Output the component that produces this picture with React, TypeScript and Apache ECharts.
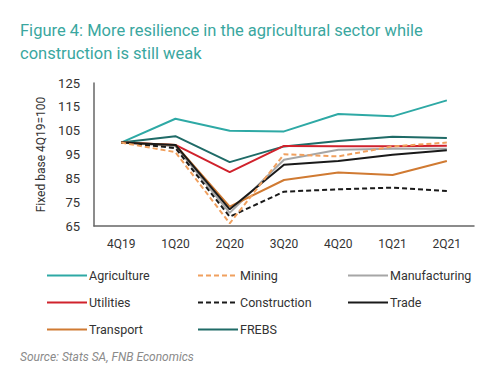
import React, { useEffect, useRef } from "react";
import * as echarts from "echarts";

const categories = ["4Q19", "1Q20", "2Q20", "3Q20", "4Q20", "1Q21", "2Q21"];
const agriculture = [100, 110, 105, 104.7, 112, 111, 117.7];
const mining = [100, 96, 66.1, 95.1, 94.2, 98.4, 100];
const manufacturing = [100, 98.5, 70.5, 92.8, 97, 97.4, 97.4];
const utilities = [100, 99, 87.6, 98.6, 98.5, 98.5, 98.7];
const construction = [100, 97.7, 68.9, 79.4, 80.4, 81.1, 79.7];
const trade = [100, 99, 72, 90.7, 92.3, 94.9, 96.8];
const transport = [100, 99, 73.1, 84.3, 87.4, 86.4, 92.3];
const frebs = [100, 102.7, 91.8, 98.4, 100.7, 102.4, 101.9];

const yTicks = { min: 65, max: 125, interval: 10 };

export default function App() {
  const ref = useRef<HTMLDivElement>(null);
  useEffect(() => {
    document.body.style.margin = "0";
    if (!ref.current) return;
    const chart = echarts.init(ref.current, undefined, { renderer: "svg" });
    const font = "Roboto, 'Noto Sans', sans-serif";
    const mk = (name: string, data: number[], color: string, dashed = false) => ({
      name,
      type: "line",
      data,
      symbol: "none",
      lineStyle: { color, width: 2, type: dashed ? [5, 3] : "solid" },
      itemStyle: { color },
    });
    const legendBase = {
      orient: "vertical",
      itemWidth: 40,
      itemHeight: 12,
      itemGap: 14,
      itemStyle: { opacity: 0 },
      textStyle: { fontFamily: font, fontSize: 12.5, color: "#333", padding: [0, 0, 0, -3] },
    };
    chart.setOption({
      animation: false,
      title: [
        {
          text: "Figure 4: More resilience in the agricultural sector while\nconstruction is still weak",
          left: 15,
          top: 14,
          textStyle: {
            fontFamily: font,
            fontSize: 16.5,
            fontWeight: "normal",
            color: "#3aa7a0",
            lineHeight: 23,
          },
        },
        {
          text: "Source: Stats SA, FNB Economics",
          left: 15,
          top: 346,
          textStyle: {
            fontFamily: font,
            fontSize: 12,
            fontStyle: "italic",
            fontWeight: "normal",
            color: "#8a8a8a",
          },
        },
      ],
      grid: { left: 94, right: 11, top: 83, bottom: 145 },
      xAxis: {
        type: "category",
        data: categories,
        boundaryGap: true,
        axisLine: { lineStyle: { color: "#666", width: 1.5 } },
        axisTick: { show: false },
        axisLabel: { fontFamily: font, fontSize: 12, color: "#333", margin: 12 },
      },
      yAxis: {
        type: "value",
        min: yTicks.min,
        max: yTicks.max,
        interval: yTicks.interval,
        name: "Fixed base 4Q19=100",
        nameLocation: "middle",
        nameGap: 39,
        nameTextStyle: { fontFamily: font, fontSize: 12, color: "#333" },
        axisLine: { show: true, lineStyle: { color: "#666", width: 1.5 } },
        axisTick: { show: false },
        splitLine: { show: false },
        axisLabel: { fontFamily: font, fontSize: 13, color: "#333", margin: 14 },
      },
      legend: [
        { ...legendBase, left: 41, top: 264, data: ["Agriculture", "Utilities", "Transport"] },
        { ...legendBase, left: 192, top: 264, data: ["Mining", "Construction", "FREBS"] },
        { ...legendBase, left: 342, top: 264, data: ["Manufacturing", "Trade"] },
      ],
      series: [
        mk("Agriculture", agriculture, "#2ea9a5"),
        mk("FREBS", frebs, "#1f6b67"),
        mk("Utilities", utilities, "#d0222c"),
        mk("Manufacturing", manufacturing, "#a6a6a6"),
        mk("Transport", transport, "#d07a32"),
        mk("Trade", trade, "#1a1a1a"),
        mk("Construction", construction, "#1a1a1a", true),
        mk("Mining", mining, "#f0a05e", true),
      ],
    });
    return () => chart.dispose();
  }, []);
  return <div ref={ref} style={{ width: 485, height: 371, background: "#fff" }} />;
}
